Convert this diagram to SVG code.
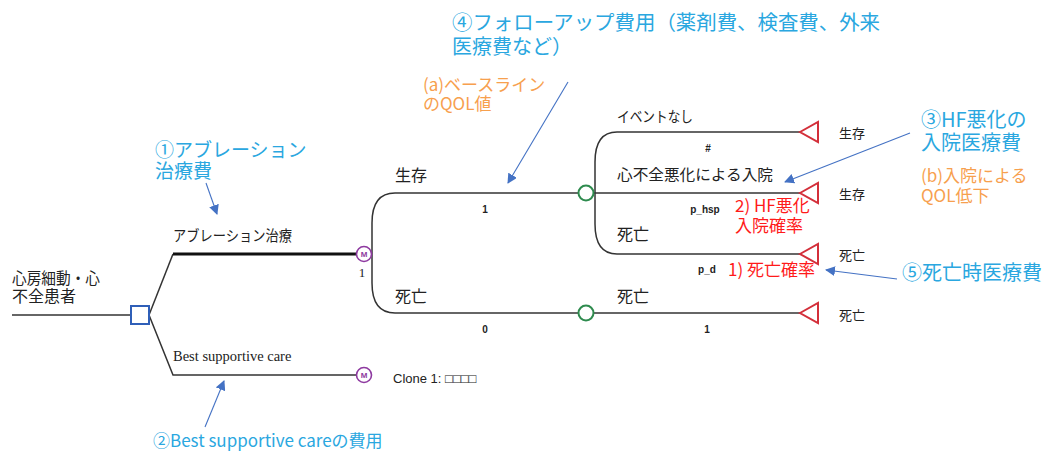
<svg xmlns="http://www.w3.org/2000/svg" width="1049" height="452" viewBox="0 0 1049 452">
<defs>
<style>
.ln{fill:none;stroke:#333;stroke-width:1.5}
.thick{fill:none;stroke:#111;stroke-width:3.2}
.arr{fill:none;stroke:#4472c4;stroke-width:1.1}
.jp{font-family:"Noto Sans CJK JP","Noto Sans",sans-serif;fill:#222}
.lbl{font-size:15px}
.term{font-size:13px}
.small{font-family:"Liberation Sans",Arial,sans-serif;font-size:10px;font-weight:bold;fill:#222}
.blue{font-family:"Noto Sans CJK JP","Noto Sans",sans-serif;fill:#2aa7e0}
.orange{font-family:"Noto Sans CJK JP","Noto Sans",sans-serif;fill:#f7a04e;font-size:17px}
.red{font-family:"Noto Sans CJK JP","Noto Sans",sans-serif;fill:#ff1a1a;font-size:17px}
.mnode{fill:#fff;stroke:#8e3aa0;stroke-width:1.6}
.mtxt{font-family:"Liberation Sans",Arial,sans-serif;font-size:8px;font-weight:bold;fill:#8e3aa0}
.cnode{fill:#fff;stroke:#2e8b4e;stroke-width:2}
.tnode{fill:none;stroke:#d32f3a;stroke-width:2}
.dnode{fill:#fff;stroke:#2f5fb8;stroke-width:2}
</style>
<marker id="ah" viewBox="0 0 10 10" refX="9" refY="5" markerWidth="10" markerHeight="10" markerUnits="userSpaceOnUse" orient="auto">
<path d="M0,0 L10,5 L0,10 z" fill="#4472c4"/>
</marker>
</defs>
<rect width="1049" height="452" fill="#fff"/>

<g id="connectors">
<line class="ln" x1="12" y1="315" x2="131" y2="315"/>
<polyline class="ln" points="149,315 173,254"/>
<line class="thick" x1="173" y1="254" x2="356" y2="254"/>
<polyline class="ln" points="149,315 173,375 356,375"/>
<path class="ln" d="M395,193 Q372,193 372,223 L372,283 Q372,313 395,313"/>
<line class="ln" x1="395" y1="193" x2="578" y2="193"/>
<line class="ln" x1="395" y1="313" x2="578" y2="313"/>
<path class="ln" d="M617,132 Q595,132 595,162 L595,224 Q595,254 617,254"/>
<line class="ln" x1="617" y1="132" x2="800" y2="132"/>
<line class="ln" x1="594" y1="193" x2="800" y2="193"/>
<line class="ln" x1="617" y1="254" x2="800" y2="254"/>
<line class="ln" x1="594" y1="313" x2="800" y2="313"/>
</g>

<g id="annotation-arrows">
<line class="arr" x1="206" y1="183" x2="217" y2="214" marker-end="url(#ah)"/>
<line class="arr" x1="568" y1="82" x2="508" y2="183" marker-end="url(#ah)"/>
<line class="arr" x1="910" y1="133" x2="785" y2="182" marker-end="url(#ah)"/>
<line class="arr" x1="897" y1="279" x2="826" y2="270" marker-end="url(#ah)"/>
<line class="arr" x1="205" y1="427" x2="224" y2="381" marker-end="url(#ah)"/>
</g>

<g id="root">
<text class="jp" font-size="16"><tspan x="12" y="284" textLength="88" lengthAdjust="spacingAndGlyphs">心房細動・心</tspan><tspan x="12" y="302">不全患者</tspan></text>
</g>

<g id="decision">
<rect class="dnode" x="131" y="306" width="18" height="18"/>
</g>

<g id="ablation">
<text class="jp lbl" x="173" y="241" textLength="119" lengthAdjust="spacingAndGlyphs">アブレーション治療</text>
<circle class="mnode" cx="364" cy="254" r="7.5"/>
<text class="mtxt" x="364" y="257" text-anchor="middle">M</text>
<text x="362" y="277" text-anchor="middle" font-family="Liberation Serif,serif" font-size="13" fill="#222">1</text>
</g>

<g id="bsc">
<text x="173" y="361" font-family="Liberation Serif,serif" font-size="14.5" fill="#222">Best supportive care</text>
<circle class="mnode" cx="364" cy="375" r="7.5"/>
<text class="mtxt" x="364" y="378" text-anchor="middle">M</text>
<text x="393" y="383" font-family="Liberation Sans,Arial,sans-serif" font-size="13" fill="#222">Clone 1: □□□□</text>
</g>

<g id="alive">
<text class="jp" font-size="16" x="395" y="181">生存</text>
<text class="small" x="485" y="213" text-anchor="middle">1</text>
<circle class="cnode" cx="586" cy="193" r="7.5"/>
</g>

<g id="dead">
<text class="jp" font-size="16" x="395" y="302">死亡</text>
<text class="small" x="485" y="333" text-anchor="middle">0</text>
<circle class="cnode" cx="586" cy="313" r="7.5"/>
</g>

<g id="no-event">
<text class="jp lbl" x="617" y="122" textLength="76" lengthAdjust="spacingAndGlyphs">イベントなし</text>
<text class="small" x="708" y="152" text-anchor="middle">#</text>
<polygon class="tnode" points="800,132 818,122 818,142"/>
<text class="jp term" x="839" y="138">生存</text>
</g>

<g id="hospital">
<text class="jp lbl" x="617" y="180" textLength="156" lengthAdjust="spacingAndGlyphs">心不全悪化による入院</text>
<text class="small" x="705" y="213" text-anchor="middle">p_hsp</text>
<polygon class="tnode" points="800,193 818,183 818,203"/>
<text class="jp term" x="839" y="199">生存</text>
</g>

<g id="death1">
<text class="jp" font-size="16" x="617" y="240">死亡</text>
<text class="small" x="707" y="273" text-anchor="middle">p_d</text>
<polygon class="tnode" points="800,254 818,244 818,264"/>
<text class="jp term" x="839" y="260">死亡</text>
</g>

<g id="death2">
<text class="jp" font-size="16" x="617" y="302">死亡</text>
<text class="small" x="707" y="333" text-anchor="middle">1</text>
<polygon class="tnode" points="800,313 818,303 818,323"/>
<text class="jp term" x="839" y="320">死亡</text>
</g>

<g id="annotations">
<text class="blue" font-size="19"><tspan x="155" y="157">①アブレーション</tspan><tspan x="155" y="178">治療費</tspan></text>
<text class="blue" font-size="20"><tspan x="452" y="30" textLength="428" lengthAdjust="spacingAndGlyphs">④フォローアップ費用（薬剤費、検査費、外来</tspan><tspan x="452" y="54">医療費など）</tspan></text>
<text class="orange"><tspan x="423" y="91">(a)ベースライン</tspan><tspan x="423" y="110">のQOL値</tspan></text>
<text class="blue" font-size="20"><tspan x="921" y="127">③HF悪化の</tspan><tspan x="921" y="150">入院医療費</tspan></text>
<text class="orange"><tspan x="921" y="182">(b)入院による</tspan><tspan x="921" y="202">QOL低下</tspan></text>
<text class="red"><tspan x="735" y="212">2) HF悪化</tspan><tspan x="735" y="232">入院確率</tspan></text>
<text class="red" x="728" y="276">1) 死亡確率</text>
<text class="blue" font-size="20" x="902" y="280">⑤死亡時医療費</text>
<text class="blue" font-size="17" x="153" y="447">②Best supportive careの費用</text>
</g>
</svg>
